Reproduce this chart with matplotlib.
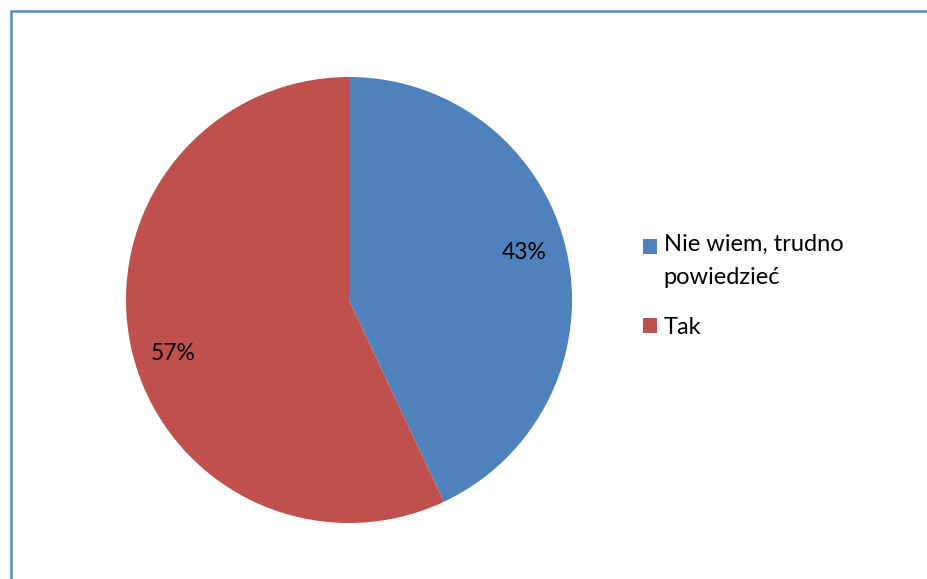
import matplotlib
matplotlib.use("Agg")
import matplotlib.pyplot as plt
from matplotlib.patches import Rectangle, Patch
from matplotlib.legend_handler import HandlerPatch

categories = ["Nie wiem, trudno\npowiedzieć", "Tak"]
values = [43, 57]
colors = ["#4F81BD", "#C0504D"]
# label anchor positions (fraction of radius), as placed in the source chart
label_pos = [(0.784, 0.215), (-0.787, -0.238)]

plt.rcParams['font.family'] = ['Lato', 'DejaVu Sans']

W, H = 928, 579
fig = plt.figure(figsize=(W/100, H/100), dpi=100)
fig.patch.set_facecolor("white")

# border frame
fig.patches.append(Rectangle((11.5/W, -0.2), 2.0, (H-11.5)/H + 0.2,
                             transform=fig.transFigure, fill=False,
                             edgecolor="#5A8AC6", linewidth=1.8))

cx, cy, r = 349, 300, 223
ax = fig.add_axes([(cx-r)/W, (H-cy-r)/H, 2*r/W, 2*r/H])
wedges, texts, autotexts = ax.pie(values, colors=colors, startangle=90,
                                  counterclock=False, autopct='%1.0f%%',
                                  pctdistance=0.81,
                                  textprops=dict(fontsize=16.5, color="black"))
for t, p in zip(autotexts, label_pos):
    t.set_position(p)
    t.set_va('center')
ax.set_aspect('equal')
ax.set_xlim(-1, 1)
ax.set_ylim(-1, 1)
ax.axis('off')


def top_aligned(legend, orig_handle, xdescent, ydescent, width, height, fontsize):
    # put the swatch next to the first line of a two-line label
    return Rectangle((-xdescent, -ydescent + 10.5), width, height)


handles = [Patch(facecolor=c, edgecolor='none') for c in colors]
leg = fig.legend(handles, categories, loc='upper left',
                 bbox_to_anchor=(643/W, 1 - 234/H), frameon=False,
                 fontsize=17, handlelength=0.58, handleheight=0.58,
                 handletextpad=0.3, labelspacing=1.22, borderpad=0, borderaxespad=0,
                 handler_map={handles[0]: HandlerPatch(patch_func=top_aligned)})
for t in leg.get_texts():
    t.set_linespacing(1.72)

fig.savefig("out.png", dpi=100)
